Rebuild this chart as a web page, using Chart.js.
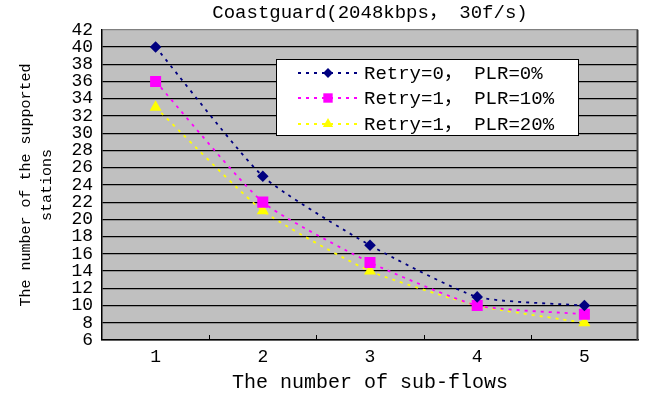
<!DOCTYPE html>
<html>
<head>
<meta charset="utf-8">
<script src="https://cdn.jsdelivr.net/npm/chart.js@4/dist/chart.umd.min.js"></script>
<style>
  html, body { margin: 0; padding: 0; background: #ffffff; }
  #wrap { width: 646px; height: 393px; position: relative; }
  #probe { position: absolute; left: -1000px; top: 0; font-family: "Liberation Mono"; }
</style>
</head>
<body>
<div id="probe">Aa0，</div>
<div id="wrap"><canvas id="c" width="646" height="393"></canvas></div>
<script>
const chartTitle = 'Coastguard(2048kbps， 30f/s)';
const xTitle = 'The number of sub-flows';
const yTitle = ['The number of the supported', 'stations'];
const categories = ['1', '2', '3', '4', '5'];
const seriesNames = ['Retry=0， PLR=0%', 'Retry=1， PLR=10%', 'Retry=1， PLR=20%'];
const retry0plr0 = [40, 25, 17, 11, 10];
const retry1plr10 = [36, 22, 15, 10, 9];
const retry1plr20 = [33, 21, 14, 10, 8];
const yMin = 6, yMax = 42, yStep = 2;

const MONO = '"Liberation Mono", "Courier New", Courier, "Noto Sans CJK SC", monospace';

const plotBg = {
  id: 'plotBg',
  beforeDraw(chart) {
    const {ctx, chartArea: a} = chart;
    ctx.save();
    ctx.fillStyle = '#c0c0c0';
    ctx.fillRect(a.left, a.top, a.right - a.left, a.bottom - a.top);
    ctx.restore();
  },
  afterDraw(chart) {
    const {ctx, chartArea: a} = chart;
    const xs = chart.scales.x;
    ctx.save();
    ctx.strokeStyle = '#404040';
    ctx.lineWidth = 2;
    ctx.beginPath();
    ctx.moveTo(a.right - 0.5, a.top);
    ctx.lineTo(a.right - 0.5, a.bottom);
    ctx.stroke();
    ctx.strokeStyle = '#000';
    ctx.lineWidth = 1;
    const n = categories.length;
    for (let i = 1; i < n; i++) {
      const x = Math.round((xs.getPixelForValue(i - 1) + xs.getPixelForValue(i)) / 2) + 0.5;
      ctx.beginPath();
      ctx.moveTo(x, a.bottom);
      ctx.lineTo(x, a.bottom - 5);
      ctx.stroke();
    }
    ctx.restore();
  }
};

const boxLegend = {
  id: 'boxLegend',
  afterDatasetsDraw(chart) {
    const {ctx} = chart;
    const bx = 276, by = 59, bw = 302, bh = 76;
    ctx.save();
    ctx.fillStyle = '#ffffff';
    ctx.fillRect(bx, by, bw, bh);
    ctx.strokeStyle = '#000';
    ctx.lineWidth = 1;
    ctx.strokeRect(bx + 0.5, by + 0.5, bw, bh);
    const rows = [73, 98, 124];
    chart.data.datasets.forEach((ds, i) => {
      const y = rows[i];
      ctx.save();
      ctx.strokeStyle = ds.borderColor;
      ctx.lineWidth = ds.borderWidth;
      ctx.setLineDash(ds.borderDash);
      ctx.beginPath();
      ctx.moveTo(298, y);
      ctx.lineTo(358, y);
      ctx.stroke();
      ctx.restore();
      ctx.save();
      ctx.fillStyle = ds.pointBackgroundColor;
      ctx.strokeStyle = ds.pointBackgroundColor;
      ctx.lineWidth = 0.01;
      Chart.helpers.drawPoint(ctx, {
        pointStyle: ds.pointStyle,
        radius: ds.pointRadius * 0.85,
        rotation: 0,
        borderWidth: 0.01
      }, 328, y);
      ctx.restore();
      ctx.fillStyle = '#000';
      ctx.font = '19px ' + MONO;
      ctx.textBaseline = 'middle';
      ctx.textAlign = 'left';
      ctx.fillText(ds.label, 364, y + 1);
    });
    ctx.restore();
  }
};

const mkSet = (label, data, color, style, radius) => ({
  label, data,
  borderColor: color,
  backgroundColor: color,
  pointBackgroundColor: color,
  pointBorderColor: color,
  pointBorderWidth: 0,
  pointStyle: style,
  pointRadius: radius,
  pointHoverRadius: radius,
  borderWidth: 1.8,
  borderDash: [3, 5],
  tension: 0.18,
  fill: false
});

function build() {
  new Chart(document.getElementById('c'), {
    type: 'line',
    data: {
      labels: categories,
      datasets: [
        mkSet(seriesNames[0], retry0plr0, '#000080', 'rectRot', 5.8),
        mkSet(seriesNames[1], retry1plr10, '#ff00ff', 'rect', 7.8),
        mkSet(seriesNames[2], retry1plr20, '#ffff00', 'triangle', 7)
      ]
    },
    options: {
      responsive: false,
      animation: false,
      layout: { padding: { left: 0, right: 8, top: 0, bottom: 0 } },
      plugins: {
        legend: { display: false },
        tooltip: { enabled: false },
        title: {
          display: true,
          text: chartTitle,
          fullSize: false,
          color: '#000',
          font: { family: MONO, size: 19, weight: 'normal', lineHeight: 1.2 },
          padding: { top: 2, bottom: 5 }
        }
      },
      scales: {
        x: {
          type: 'category',
          offset: true,
          grid: { display: false, drawTicks: false },
          border: { display: true, color: '#000', width: 1.5 },
          ticks: { color: '#000', font: { family: MONO, size: 18 }, padding: 6, maxRotation: 0 },
          title: {
            display: true, text: xTitle, color: '#000',
            font: { family: MONO, size: 20, lineHeight: 1 },
            padding: { top: 0, bottom: 0 }
          },
          afterFit(scale) { scale.height = 53; }
        },
        y: {
          min: yMin, max: yMax,
          grid: {
            color: (c) => (c.tick && c.tick.value === yMax ? '#808080' : '#000'),
            lineWidth: 1.2,
            drawTicks: false
          },
          border: { display: true, color: '#000', width: 1.5 },
          ticks: { stepSize: yStep, color: '#000', font: { family: MONO, size: 18 }, padding: 9, autoSkip: false },
          title: {
            display: true, text: yTitle, color: '#000',
            font: { family: MONO, size: 15, lineHeight: 1.4 },
            padding: { top: 15.5, bottom: 0 }
          },
          afterFit(scale) { scale.width = 102; }
        }
      }
    },
    plugins: [plotBg, boxLegend]
  });
}

if (document.fonts && document.fonts.load) {
  Promise.all([
    document.fonts.load('18px "Liberation Mono"'),
    document.fonts.load('18px "Noto Sans CJK SC"', '，')
  ]).then(build, build);
} else {
  build();
}
</script>
</body>
</html>
